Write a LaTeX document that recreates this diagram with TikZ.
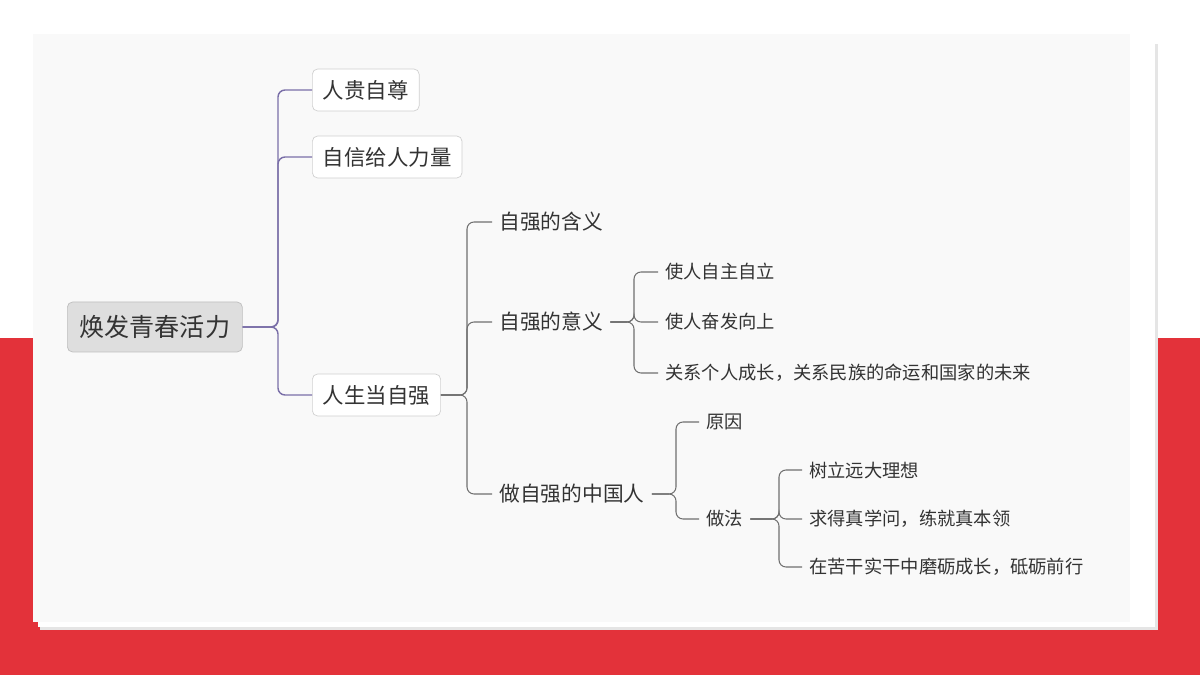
\documentclass[tikz,border=0pt]{standalone}
\usepackage{fontspec}
\setmainfont{Noto Sans CJK SC}
\definecolor{bgred}{HTML}{E3323A}
\definecolor{card}{HTML}{F9F9F9}
\definecolor{mainline}{HTML}{7A6FA8}
\definecolor{subline}{HTML}{707070}
\definecolor{txt}{HTML}{333333}
\begin{document}
\begin{tikzpicture}[x=0.02cm, y=-0.02cm,
  rootbox/.style={draw=black!25, fill=black!13, rounded corners=3pt, font=\fontsize{14.3}{16}\selectfont, text=txt, minimum height=50*0.02cm, minimum width=175*0.02cm, inner xsep=6pt},
  topicbox/.style={draw=black!18, fill=white, rounded corners=3pt, font=\fontsize{12.2}{14}\selectfont, text=txt, minimum height=42*0.02cm, inner xsep=6pt},
  subtopic/.style={font=\fontsize{11.8}{13}\selectfont, text=txt, inner xsep=4pt},
  leaf/.style={font=\fontsize{10.4}{12}\selectfont, text=txt, inner xsep=4pt},
  mainlink/.style={draw=mainline, line width=0.8pt, rounded corners=4pt},
  sublink/.style={draw=subline, line width=0.6pt, rounded corners=4pt}]
\useasboundingbox (0,0) rectangle (1200,675);
% background and cards
\fill[white] (0,0) rectangle (1200,338);
\fill[bgred] (0,338) rectangle (1200,675);
\fill[black!10] (40,44) rectangle (1158,630);
\fill[white] (38,42) rectangle (1155,627);
\fill[card] (33,34) rectangle (1130,622);

\node[rootbox, anchor=west] (root) at (67,327) {焕发青春活力};
\node[topicbox, anchor=west] (zizun) at (312,90) {人贵自尊};
\node[topicbox, anchor=west] (zixin) at (312,157) {自信给人力量};
\node[topicbox, anchor=west] (ziqiang) at (312,395) {人生当自强};

\node[subtopic, anchor=west] (hanyi) at (492,222) {自强的含义};
\node[subtopic, anchor=west] (yiyi) at (492,322) {自强的意义};
\node[subtopic, anchor=west] (zhongguo) at (492,494) {做自强的中国人};

\node[leaf, anchor=west] (zizhu) at (658,272) {使人自主自立};
\node[leaf, anchor=west] (fenfa) at (658,322) {使人奋发向上};
\node[leaf, anchor=west] (guanxi) at (658,373) {关系个人成长，关系民族的命运和国家的未来};

\node[leaf, anchor=west] (yuanyin) at (699,422) {原因};
\node[leaf, anchor=west] (zuofa) at (699,519) {做法};

\node[leaf, anchor=west] (lixiang) at (802,470) {树立远大理想};
\node[leaf, anchor=west] (xuewen) at (802,519) {求得真学问，练就真本领};
\node[leaf, anchor=west] (moli) at (802,567) {在苦干实干中磨砺成长，砥砺前行};

\foreach \c in {zizun,zixin,ziqiang}
  \draw[mainlink] (root.east) -- (278,327) |- (\c.west);
\foreach \c in {hanyi,yiyi,zhongguo}
  \draw[sublink] (ziqiang.east) -- (467,395) |- (\c.west);
\foreach \c in {zizhu,fenfa,guanxi}
  \draw[sublink] (yiyi.east) -- (634,322) |- (\c.west);
\foreach \c in {yuanyin,zuofa}
  \draw[sublink] (zhongguo.east) -- (676,494) |- (\c.west);
\foreach \c in {lixiang,xuewen,moli}
  \draw[sublink] (zuofa.east) -- (779,519) |- (\c.west);
\end{tikzpicture}
\end{document}
